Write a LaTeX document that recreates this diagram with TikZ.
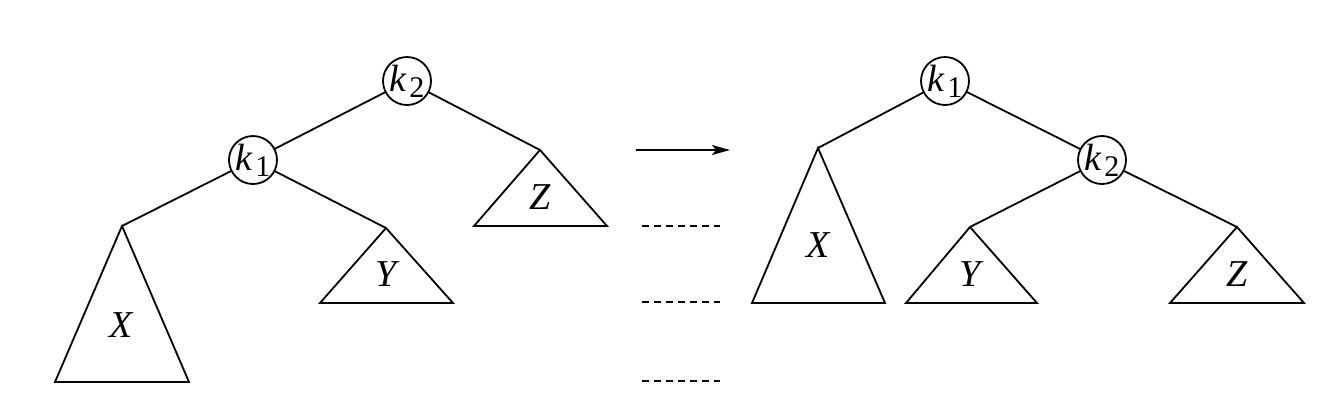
\documentclass[tikz,border=0pt]{standalone}
\usepackage{fontspec}
\setmainfont{Liberation Serif}
\usetikzlibrary{arrows.meta}
\newcommand{\kk}[1]{{\itshape k}\kern1.5pt\raisebox{-0.35ex}{\fontsize{15}{17}\selectfont\upshape #1}}
\begin{document}
\begin{tikzpicture}[x=0.5pt,y=-0.5pt,
  line width=0.9pt,
  keynode/.style={circle,draw,minimum size=24pt,inner sep=0pt,font=\fontsize{19}{21}\selectfont},
  lbl/.style={inner sep=0pt,font=\fontsize{19}{21}\selectfont\itshape},
  tri/.style={draw,line join=miter},
  dashline/.style={dash pattern=on 3.6pt off 2.4pt}]
\useasboundingbox (0,0) rectangle (1342,404);
% left tree
\node[keynode] (Lk2) at (407,81) {\kk{2}};
\node[keynode] (Lk1) at (253,160) {\kk{1}};
\coordinate (LZ) at (540,150);
\coordinate (LY) at (386,228);
\coordinate (LX) at (122,226);
\draw[tri] (LZ) -- (607,226) -- (474,226) -- cycle;
\draw[tri] (LY) -- (453,303) -- (320,303) -- cycle;
\draw[tri] (LX) -- (189,382) -- (55,382) -- cycle;
\node[lbl] (LZl) at (540,197) {Z};
\node[lbl] (LYl) at (386,274) {Y};
\node[lbl] (LXl) at (121,325) {X};
\draw (Lk2) -- (Lk1);
\draw (Lk2) -- (LZ);
\draw (Lk1) -- (LX);
\draw (Lk1) -- (LY);
% arrow and dashes
\coordinate (a1) at (636,150);
\coordinate (a2) at (730,150);
\draw[-{Stealth[length=9pt,width=5pt,inset=2pt]},line width=0.8pt] (a1) -- (a2);
\coordinate (d1a) at (642,226); \coordinate (d1b) at (720,226);
\coordinate (d2a) at (642,302); \coordinate (d2b) at (720,302);
\coordinate (d3a) at (642,381); \coordinate (d3b) at (720,381);
\draw[dashline] (d1a) -- (d1b);
\draw[dashline] (d2a) -- (d2b);
\draw[dashline] (d3a) -- (d3b);
% right tree
\node[keynode] (Rk1) at (945,81) {\kk{1}};
\node[keynode] (Rk2) at (1102,160) {\kk{2}};
\coordinate (RX) at (818,148);
\coordinate (RY) at (970,227);
\coordinate (RZ) at (1237,227);
\draw[tri] (RX) -- (885,303) -- (752,303) -- cycle;
\draw[tri] (RY) -- (1037,303) -- (906,303) -- cycle;
\draw[tri] (RZ) -- (1304,303) -- (1170,303) -- cycle;
\node[lbl] (RXl) at (818,245) {X};
\node[lbl] (RYl) at (970,274) {Y};
\node[lbl] (RZl) at (1237,274) {Z};
\draw (Rk1) -- (Rk2);
\draw (Rk1) -- (RX);
\draw (Rk2) -- (RY);
\draw (Rk2) -- (RZ);
\end{tikzpicture}
\end{document}
